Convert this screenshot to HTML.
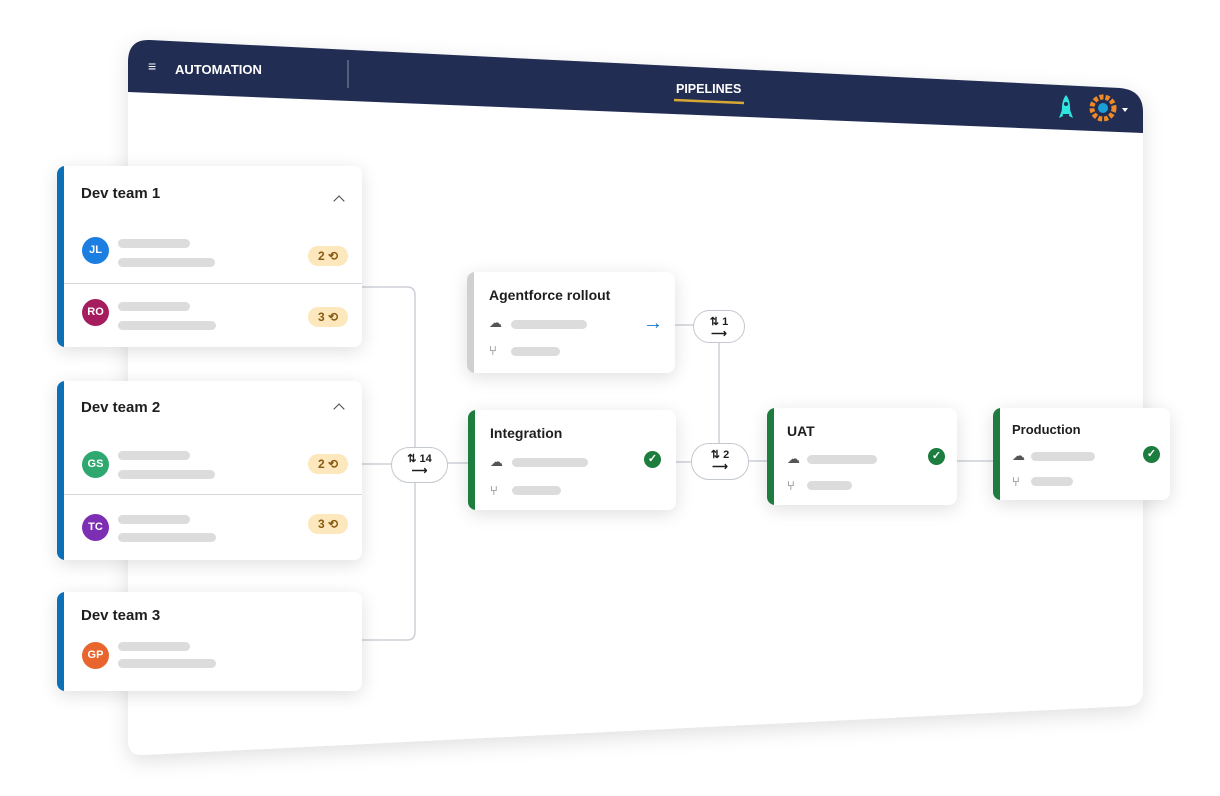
<!DOCTYPE html>
<html><head><meta charset="utf-8"><style>
*{margin:0;padding:0;box-sizing:border-box}
body{width:1220px;height:796px;background:#fff;position:relative;overflow:hidden;font-family:"Liberation Sans",sans-serif;color:#1e1e1e}
.a{position:absolute}
.card{position:absolute;background:#fff;border-radius:8px;box-shadow:0 4px 18px rgba(0,0,0,.13);overflow:hidden}
.bar{position:absolute;left:0;top:0;bottom:0;width:7px}
.t{position:absolute;font-weight:bold;font-size:15px}
.sk{position:absolute;height:9px;border-radius:5px;background:#dcdcdc}
.av{position:absolute;width:27px;height:27px;border-radius:50%;color:#fff;font-size:11px;font-weight:bold;text-align:center;line-height:27px}
.bd{position:absolute;width:40px;height:20px;border-radius:10px;background:#fde7bd;color:#8a5a10;font-size:12px;font-weight:bold;text-align:center;line-height:20px}
.pill{position:absolute;background:#fff;border:1.5px solid #c4c8cf;border-radius:18px;text-align:center;font-size:11px;font-weight:bold;line-height:12px;padding-top:5px}
.chk{position:absolute;width:17px;height:17px;border-radius:50%;background:#1c7d3f;color:#fff;font-size:11px;text-align:center;line-height:17px;font-weight:bold}
.ic{position:absolute;font-size:13px;color:#555}
.chev{position:absolute;width:8px;height:8px;border-left:1.8px solid #444;border-top:1.8px solid #444;transform:rotate(45deg)}
</style></head><body>
<svg class="a" style="left:0;top:0" width="1220" height="796">
<defs><filter id="sh" x="-10%" y="-10%" width="120%" height="130%"><feDropShadow dx="0" dy="6" stdDeviation="10" flood-opacity=".12"/></filter></defs>
<path d="M150 40 L1120 88 Q1143 90 1143 112 L1143 690 Q1143 705 1128 706 L143 755 Q128 756 128 740 L128 62 Q128 39 150 40 Z" fill="#fff" filter="url(#sh)"/>
<path d="M150 40 L1120 88 Q1143 90 1143 112 L1143 133 L128 92 L128 62 Q128 39 150 40 Z" fill="#222d54"/>
<line x1="348" y1="60" x2="348" y2="88" stroke="#8a90a8" stroke-width="1"/>
<line x1="674" y1="100" x2="744" y2="103" stroke="#d6a834" stroke-width="2.5"/>
<g fill="none" stroke="#cdd1d7" stroke-width="1.5">
<path d="M362 287 L407 287 Q415 287 415 295 L415 632 Q415 640 407 640 L362 640"/>
<line x1="362" y1="464" x2="392" y2="464"/><line x1="447" y1="463" x2="468" y2="463"/>
<line x1="675" y1="325" x2="694" y2="325"/><line x1="676" y1="462" x2="692" y2="462"/>
<line x1="719" y1="342" x2="719" y2="444"/><line x1="748" y1="461" x2="767" y2="461"/>
<line x1="957" y1="461" x2="993" y2="461"/>
</g>
<path d="M1066 95 Q1071 101 1070 114 L1062 114 Q1061 101 1066 95Z" fill="#2ee6e0"/>
<path d="M1062 110 l-3 8 l4 -2z M1070 110 l3 8 l-4 -2z" fill="#2ee6e0"/>
<circle cx="1066" cy="104" r="2" fill="#222d54"/>
<circle cx="1103" cy="108" r="11" fill="none" stroke="#f08a24" stroke-width="5" stroke-dasharray="4 2"/>
<circle cx="1103" cy="108" r="5" fill="#1b9fd6"/>
<path d="M1122 108 l6 0 l-3 4z" fill="#fff"/>
</svg>
<div class="a" style="left:148px;top:58px;color:#fff;font-size:14px">&#8801;</div>
<div class="a" style="left:175px;top:62px;color:#fff;font-size:13px;font-weight:bold">AUTOMATION</div>
<div class="a" style="left:676px;top:82px;color:#fff;font-size:12.5px;font-weight:bold">PIPELINES</div>

<div class="card" style="left:57px;top:166px;width:305px;height:181px"><div class="bar" style="background:#0b70b7"></div>
<div class="t" style="left:24px;top:19px">Dev team 1</div><div class="chev" style="left:278px;top:31px"></div>
<div class="av" style="left:25px;top:71px;background:#1b7ee0">JL</div><div class="sk" style="left:61px;top:73px;width:72px"></div><div class="sk" style="left:61px;top:92px;width:97px"></div><div class="bd" style="left:251px;top:80px">2 ⟲</div>
<div class="a" style="left:7px;top:117px;width:300px;height:1px;background:#d4d7dc"></div>
<div class="av" style="left:25px;top:133px;background:#a51d5e">RO</div><div class="sk" style="left:61px;top:136px;width:72px"></div><div class="sk" style="left:61px;top:155px;width:98px"></div><div class="bd" style="left:251px;top:141px">3 ⟲</div></div>

<div class="card" style="left:57px;top:381px;width:305px;height:179px"><div class="bar" style="background:#0b70b7"></div>
<div class="t" style="left:24px;top:18px">Dev team 2</div><div class="chev" style="left:278px;top:24px"></div>
<div class="av" style="left:25px;top:70px;background:#2fa86f">GS</div><div class="sk" style="left:61px;top:70px;width:72px"></div><div class="sk" style="left:61px;top:89px;width:97px"></div><div class="bd" style="left:251px;top:73px">2 ⟲</div>
<div class="a" style="left:7px;top:113px;width:300px;height:1px;background:#d4d7dc"></div>
<div class="av" style="left:25px;top:133px;background:#7c2fb3">TC</div><div class="sk" style="left:61px;top:134px;width:72px"></div><div class="sk" style="left:61px;top:152px;width:98px"></div><div class="bd" style="left:251px;top:133px">3 ⟲</div></div>

<div class="card" style="left:57px;top:592px;width:305px;height:99px"><div class="bar" style="background:#0b70b7"></div>
<div class="t" style="left:24px;top:15px">Dev team 3</div>
<div class="av" style="left:25px;top:50px;background:#e8652e">GP</div><div class="sk" style="left:61px;top:50px;width:72px"></div><div class="sk" style="left:61px;top:67px;width:98px"></div></div>

<div class="card" style="left:467px;top:272px;width:208px;height:101px"><div class="bar" style="background:#d0d0d0"></div>
<div class="t" style="left:22px;top:15px;font-size:14px">Agentforce rollout</div>
<div class="ic" style="left:22px;top:43px">☁</div><div class="sk" style="left:44px;top:48px;width:76px"></div>
<div class="ic" style="left:22px;top:71px">⑂</div><div class="sk" style="left:44px;top:75px;width:49px"></div>
<div class="a" style="left:176px;top:40px;font-size:20px;color:#1a73c8">→</div></div>

<div class="card" style="left:468px;top:410px;width:208px;height:100px"><div class="bar" style="background:#1c7d3f"></div>
<div class="t" style="left:22px;top:15px;font-size:14px">Integration</div>
<div class="ic" style="left:22px;top:44px">☁</div><div class="sk" style="left:44px;top:48px;width:76px"></div>
<div class="ic" style="left:22px;top:73px">⑂</div><div class="sk" style="left:44px;top:76px;width:49px"></div>
<div class="chk" style="left:176px;top:41px">✓</div></div>

<div class="card" style="left:767px;top:408px;width:190px;height:97px"><div class="bar" style="background:#1c7d3f"></div>
<div class="t" style="left:20px;top:15px;font-size:14px">UAT</div>
<div class="ic" style="left:20px;top:43px">☁</div><div class="sk" style="left:40px;top:47px;width:70px"></div>
<div class="ic" style="left:20px;top:70px">⑂</div><div class="sk" style="left:40px;top:73px;width:45px"></div>
<div class="chk" style="left:161px;top:40px">✓</div></div>

<div class="card" style="left:993px;top:408px;width:177px;height:92px"><div class="bar" style="background:#1c7d3f"></div>
<div class="t" style="left:19px;top:14px;font-size:13px">Production</div>
<div class="ic" style="left:19px;top:40px">☁</div><div class="sk" style="left:38px;top:44px;width:64px"></div>
<div class="ic" style="left:19px;top:66px">⑂</div><div class="sk" style="left:38px;top:69px;width:42px"></div>
<div class="chk" style="left:150px;top:38px">✓</div></div>

<div class="pill" style="left:391px;top:447px;width:57px;height:36px">⇅ 14<br>⟶</div>
<div class="pill" style="left:693px;top:310px;width:52px;height:33px">⇅ 1<br>⟶</div>
<div class="pill" style="left:691px;top:443px;width:58px;height:37px">⇅ 2<br>⟶</div>
</body></html>
